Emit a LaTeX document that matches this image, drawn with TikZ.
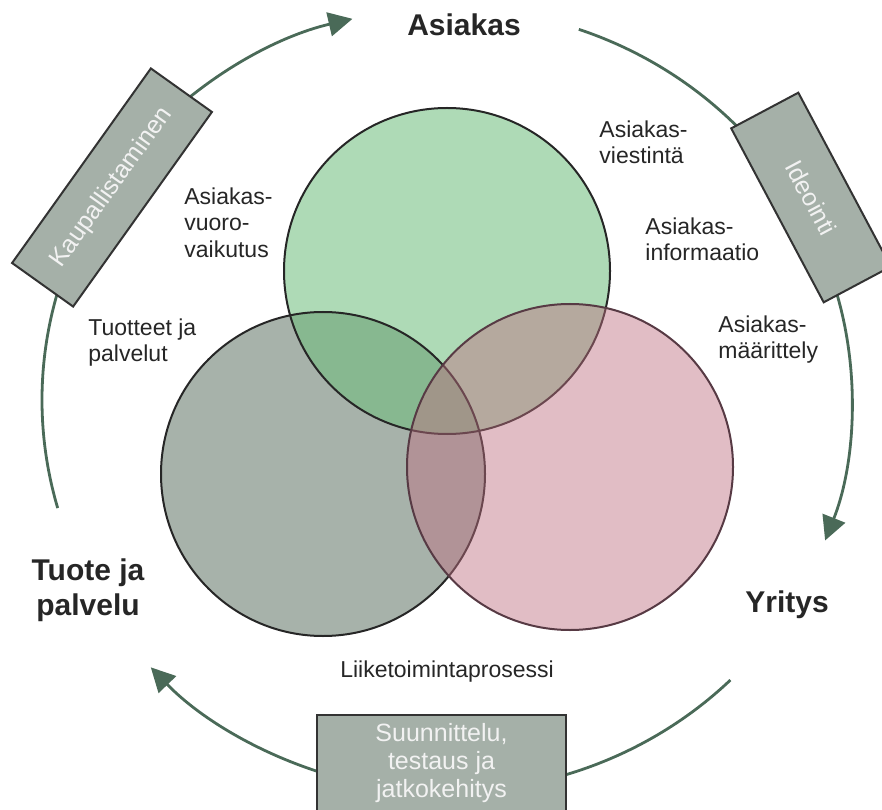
\documentclass[tikz,border=0pt]{standalone}
\usepackage{fontspec}
\setmainfont{Liberation Sans}
\usepackage{tikz}
\usetikzlibrary{arrows.meta,positioning}
\definecolor{cyclegreen}{RGB}{74,106,88}
\definecolor{boxgray}{RGB}{165,176,168}
\definecolor{venngray}{RGB}{167,178,170}
\definecolor{venngreen}{RGB}{110,189,125}
\definecolor{vennpink}{RGB}{190,112,129}
\definecolor{pinkline}{RGB}{87,58,68}
\definecolor{labeltext}{RGB}{38,38,38}

\begin{document}
\begin{tikzpicture}[x=0.5pt, y=0.5pt,
  small/.style={font=\fontsize{11.5}{13.3}\selectfont, text=labeltext, align=left, inner sep=0pt},
  big/.style={font=\fontsize{15}{17.5}\selectfont\bfseries, text=labeltext, align=center, inner sep=0pt},
  boxtext/.style={font=\fontsize{12.5}{14}\selectfont, text=white!95!black, align=center, inner sep=0pt},
  stepbox/.style={boxtext, draw=black!80, line width=1pt, fill=boxgray},
  cyclearc/.style={draw=cyclegreen, line width=1.4pt},
  arrowed/.style={-{Triangle[length=12pt,width=12pt]}},
  vennline/.style={draw=black!85, line width=1pt}]
\useasboundingbox (0,0) rectangle (882,809);

% circle centres
\coordinate (cgray) at (323,335);
\coordinate (cgreen) at (447,538);
\coordinate (cpink) at (570,342);
\coordinate (o) at (447,409);

% venn
\fill[venngray] (cgray) circle[radius=162];
\fill[venngreen, fill opacity=0.56] (cgreen) circle[radius=163];
\draw[vennline] (cgray) circle[radius=162];
\draw[vennline] (cgreen) circle[radius=163];
\filldraw[fill=vennpink, fill opacity=0.46, draw=pinkline, line width=1pt] (cpink) circle[radius=163];

% cycle arcs
\coordinate (k1) at ([shift={(196:405 and 392)}]o);
\coordinate (i1) at ([shift={(71:405 and 392)}]o);
\coordinate (s1) at ([shift={(-45.6:405 and 392)}]o);
\draw[cyclearc, arrowed] (k1) arc[start angle=196, end angle=103.5, x radius=405, y radius=392];
\draw[cyclearc, arrowed] (i1) arc[start angle=71, end angle=-21, x radius=405, y radius=392];
\draw[cyclearc, arrowed] (s1) arc[start angle=-45.6, end angle=-137, x radius=405, y radius=392];

% boxes
\node[stepbox, rotate=54.5, minimum width=119.5pt, minimum height=37.5pt] (kaup) at (112,621.5) {Kaupallistaminen};
\node[stepbox, rotate=-62, minimum width=98.5pt, minimum height=38pt] (ideo) at (811,611.5) {Ideointi};
\node[stepbox, anchor=north, minimum width=124.5pt, minimum height=60pt] (suun) at (441.5,95) {};
\node[boxtext, anchor=north] (suuntext) at (441.5,86) {Suunnittelu,\\testaus ja\\jatkokehitys};

% main labels
\node[big, anchor=north] (asiakas) at (464,796) {Asiakas};
\node[big, anchor=north] (yritys) at (787,219) {Yritys};
\node[big, anchor=north] (tuote) at (88,251) {Tuote ja\\palvelu};

% small labels
\node[small, anchor=north west] (vuoro) at (184,622) {Asiakas-\\vuoro-\\vaikutus};
\node[small, anchor=north west] (tuotteet) at (88,491) {Tuotteet ja\\palvelut};
\node[small, anchor=north west] (viestinta) at (599,689) {Asiakas-\\viestintä};
\node[small, anchor=north west] (informaatio) at (645,592) {Asiakas-\\informaatio};
\node[small, anchor=north west] (maarittely) at (718,494) {Asiakas-\\määrittely};
\node[small, anchor=north] (prosessi) at (447,149) {Liiketoimintaprosessi};
\end{tikzpicture}
\end{document}
